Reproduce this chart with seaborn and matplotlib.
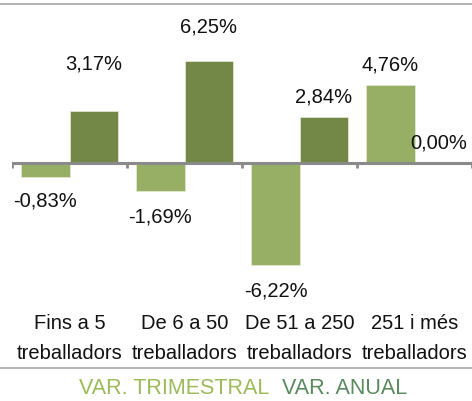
import numpy as np
import pandas as pd
import matplotlib
matplotlib.use("Agg")
import matplotlib.pyplot as plt
import seaborn as sns
from matplotlib.lines import Line2D

# dades
categories = ["Fins a 5\ntreballadors", "De 6 a 50\ntreballadors",
              "De 51 a 250\ntreballadors", "251 i més\ntreballadors"]
var_trimestral = [-0.83, -1.69, -6.22, 4.76]
var_anual = [3.17, 6.25, 2.84, 0.00]
series = ["VAR. TRIMESTRAL", "VAR. ANUAL"]

df = pd.DataFrame({
    "cat": categories * 2,
    "valor": var_trimestral + var_anual,
    "serie": [series[0]] * 4 + [series[1]] * 4,
})

sns.set_style("white")
plt.rcParams["font.family"] = ["Liberation Sans", "DejaVu Sans"]

fig = plt.figure(figsize=(4.72, 4.01), dpi=100)
ax = fig.add_axes([12 / 472, 1 - 300 / 401, 460 / 472, 295 / 401])

sns.barplot(data=df, x="cat", y="valor", hue="serie", order=categories,
            palette=["#9BBB59", "#77933C"], width=0.835, gap=0,
            edgecolor="#dfe8cf", linewidth=0.6, ax=ax)

ax.set_xlim(-0.5, 3.5)
ax.set_ylim(-8.38, 9.66)
ax.set_xlabel("")
ax.set_ylabel("")
ax.set_yticks([])
for s in ax.spines.values():
    s.set_visible(False)
ax.tick_params(axis="x", length=0, pad=10, labelsize=14.5, labelcolor="#111111")
for lbl in ax.get_xticklabels():
    lbl.set_linespacing(1.75)

# linia del zero amb marques
ax.axhline(0, color="#8a8a8a", lw=2.2, zorder=3)
ax.vlines(np.arange(-0.5, 4, 1.0), -0.33, 0, color="#8a8a8a", lw=2, zorder=3)

# etiquetes de valor
pads = [[24, 26, 26, 20], [47, 34, 20, 20]]
for cont, pp in zip(ax.containers, pads):
    for bar, p in zip(cont, pp):
        v = bar.get_height()
        x = bar.get_x() + bar.get_width() / 2
        txt = f"{v:.2f}%".replace(".", ",")
        off = p if v >= 0 else -p
        ax.annotate(txt, (x, v), xytext=(0, off * 0.72), textcoords="offset points",
                    ha="center", va="center", fontsize=14.5, color="#111111")

# llegenda
leg = ax.legend(loc="center", bbox_to_anchor=(243 / 472, 1 - 389 / 401),
                bbox_transform=fig.transFigure, ncol=2, frameon=False,
                handlelength=0, handletextpad=0, columnspacing=0.6, fontsize=15.5)
for h in leg.legend_handles:
    h.set_visible(False)
for t, c in zip(leg.get_texts(), ["#9BBB59", "#5A8A5E"]):
    t.set_color(c)

# linies de marc
fig.add_artist(Line2D([0, 1], [1 - 4 / 401] * 2, color="#a6a6a6", lw=1.2,
                      transform=fig.transFigure))
fig.add_artist(Line2D([0, 1], [1 - 368 / 401] * 2, color="#a6a6a6", lw=1.2,
                      transform=fig.transFigure))

fig.savefig("out.png", dpi=100)
